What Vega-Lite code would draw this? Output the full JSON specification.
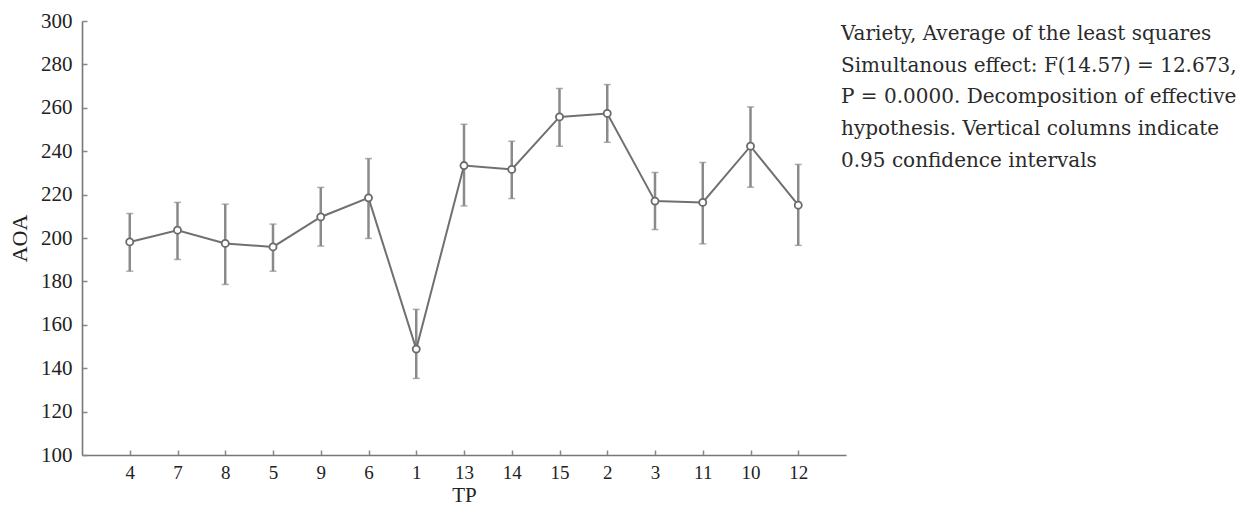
{
  "$schema": "https://vega.github.io/schema/vega-lite/v6.json",
  "autosize": {"type": "none"},
  "width": 764,
  "height": 434,
  "padding": {"left": 82, "top": 21, "right": 411, "bottom": 53},
  "background": "white",
  "config": {
    "view": {"stroke": null},
    "font": "Liberation Serif",
    "axis": {
      "labelFont": "Liberation Serif",
      "titleFont": "Liberation Serif",
      "labelColor": "#222222",
      "titleColor": "#222222",
      "titleFontWeight": "normal",
      "domainColor": "#777777",
      "domainWidth": 1.6,
      "tickColor": "#888888",
      "tickWidth": 1.5,
      "grid": false
    }
  },
  "title": {
    "text": [
      "Variety, Average of the least squares",
      "Simultanous effect: F(14.57) = 12.673,",
      "P = 0.0000. Decomposition of effective",
      "hypothesis. Vertical columns indicate",
      "0.95 confidence intervals"
    ],
    "orient": "top",
    "anchor": "end",
    "frame": "group",
    "angle": 0,
    "align": "left",
    "baseline": "top",
    "offset": 0,
    "dx": -5,
    "dy": 161,
    "font": "DejaVu Serif",
    "fontSize": 20,
    "fontWeight": "normal",
    "color": "#2a2a2a",
    "lineHeight": 31.8
  },
  "data": {
    "values": [
      {"TP": "4", "AOA": 198.2, "lo": 184.7, "hi": 211.3},
      {"TP": "7", "AOA": 203.6, "lo": 190.1, "hi": 216.4},
      {"TP": "8", "AOA": 197.5, "lo": 178.6, "hi": 215.6},
      {"TP": "5", "AOA": 195.9, "lo": 184.7, "hi": 206.4},
      {"TP": "9", "AOA": 209.7, "lo": 196.3, "hi": 223.3},
      {"TP": "6", "AOA": 218.5, "lo": 199.8, "hi": 236.6},
      {"TP": "1", "AOA": 148.8, "lo": 135.3, "hi": 167.1},
      {"TP": "13", "AOA": 233.4, "lo": 214.8, "hi": 252.4},
      {"TP": "14", "AOA": 231.6, "lo": 218.2, "hi": 244.6},
      {"TP": "15", "AOA": 255.8, "lo": 242.3, "hi": 268.9},
      {"TP": "2", "AOA": 257.4, "lo": 244.1, "hi": 270.7},
      {"TP": "3", "AOA": 217.0, "lo": 203.9, "hi": 230.2},
      {"TP": "11", "AOA": 216.4, "lo": 197.3, "hi": 234.8},
      {"TP": "10", "AOA": 242.3, "lo": 223.4, "hi": 260.4},
      {"TP": "12", "AOA": 215.1, "lo": 196.6, "hi": 233.9}
    ]
  },
  "encoding": {
    "x": {
      "field": "TP",
      "type": "ordinal",
      "sort": null,
      "scale": {"type": "point", "padding": 1},
      "axis": {
        "title": "TP",
        "labelAngle": 0,
        "labelFontSize": 19,
        "titleFontSize": 21,
        "tickSize": -5,
        "labelPadding": 13,
        "titlePadding": 2
      }
    }
  },
  "layer": [
    {
      "mark": {"type": "rule", "color": "#8a8a8a", "strokeWidth": 2.5},
      "encoding": {
        "y": {"field": "lo", "type": "quantitative"},
        "y2": {"field": "hi"}
      }
    },
    {
      "mark": {"type": "tick", "color": "#8a8a8a", "size": 7, "thickness": 1.5},
      "encoding": {"y": {"field": "lo", "type": "quantitative"}}
    },
    {
      "mark": {"type": "tick", "color": "#8a8a8a", "size": 7, "thickness": 1.5},
      "encoding": {"y": {"field": "hi", "type": "quantitative"}}
    },
    {
      "mark": {"type": "line", "color": "#707070", "strokeWidth": 2},
      "encoding": {
        "y": {
          "field": "AOA",
          "type": "quantitative",
          "scale": {"domain": [100, 300], "nice": false, "zero": false},
          "axis": {
            "title": "AOA",
            "values": [100, 120, 140, 160, 180, 200, 220, 240, 260, 280, 300],
            "labelFontSize": 21,
            "titleFontSize": 22,
            "tickSize": -5,
            "labelPadding": 15,
            "titlePadding": 9
          }
        }
      }
    },
    {
      "mark": {"type": "point", "shape": "circle", "filled": false, "fill": "white", "fillOpacity": 1, "stroke": "#6a6a6a", "strokeWidth": 1.8, "size": 50, "opacity": 1},
      "encoding": {"y": {"field": "AOA", "type": "quantitative"}}
    }
  ]
}
